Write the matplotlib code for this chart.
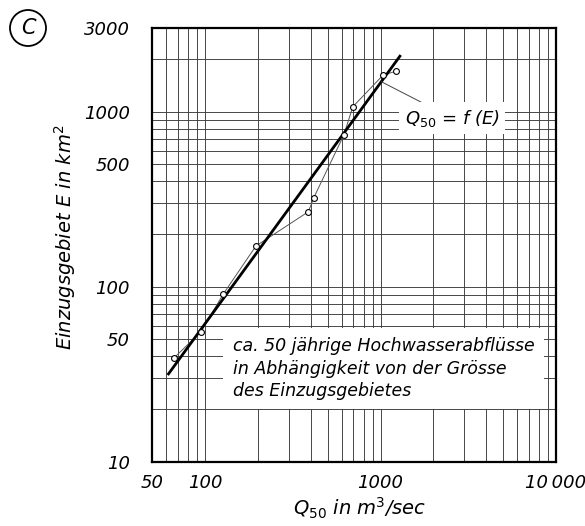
import matplotlib
matplotlib.use("Agg")
import matplotlib.pyplot as plt
from matplotlib.patches import Circle

plt.rcParams['font.family'] = ['DejaVu Sans']
plt.rcParams['mathtext.fontset'] = 'dejavusans'
plt.rcParams['mathtext.default'] = 'it'

# Data
q50 = [66.7, 94.7, 126.9, 194.8, 387.8, 416.7, 617.4, 695, 1034, 1233]
area = [39.3, 55.3, 90.8, 170.9, 268.3, 323.4, 736, 1068, 1621, 1708]
fit_q = [61.2, 1303]
fit_e = [31.3, 2109]

x_major = [50, 100, 1000, 10000]
x_major_labels = ['50', '100', '1000', '10\u2009000']
x_minor = [60, 70, 80, 90, 200, 300, 400, 500, 600, 700, 800, 900,
           2000, 3000, 4000, 5000, 6000, 7000, 8000, 9000]
y_major = [10, 50, 100, 500, 1000, 3000]
y_major_labels = ['10', '50', '100', '500', '1000', '3000']
y_minor = [20, 30, 40, 60, 70, 80, 90, 200, 300, 400, 600, 700, 800, 900, 2000]

fig = plt.figure(figsize=(5.85, 5.26), dpi=100)
ax = fig.add_axes([0.2603, 0.1222, 0.6901, 0.8240])
ax.set_xscale('log')
ax.set_yscale('log')
ax.set_xlim(50, 10000)
ax.set_ylim(10, 3000)

ax.set_xticks(x_major)
ax.set_xticklabels(x_major_labels)
ax.set_xticks(x_minor, minor=True)
ax.set_xticklabels([], minor=True)
ax.set_yticks(y_major)
ax.set_yticklabels(y_major_labels)
ax.set_yticks(y_minor, minor=True)
ax.set_yticklabels([], minor=True)

ax.tick_params(which='both', length=0)
ax.tick_params(axis='x', pad=9, labelsize=13)
ax.tick_params(axis='y', pad=16, labelsize=13)
for lab in ax.get_xticklabels() + ax.get_yticklabels():
    lab.set_style('italic')

ax.grid(True, which='both', color='#3a3a3a', linewidth=0.65)
ax.set_axisbelow(True)
for sp in ax.spines.values():
    sp.set_linewidth(1.6)
    sp.set_color('black')

# data polyline and fitted line
ax.plot(q50, area, color='#555555', linewidth=0.7, zorder=3)
ax.plot(fit_q, fit_e, color='black', linewidth=2.0, zorder=4,
        solid_capstyle='butt')
ax.plot(q50, area, linestyle='none', marker='o', markersize=4.2,
        markerfacecolor='white', markeredgecolor='black',
        markeredgewidth=0.8, zorder=5)

# annotation for fitted line
ax.annotate('Q$_{50}$ = f (E)', xy=(1012, 1484), xytext=(1374, 920),
            textcoords='data', ha='left', va='center', fontsize=13,
            style='italic', zorder=6,
            bbox=dict(boxstyle='square,pad=0.3', fc='white', ec='none'),
            arrowprops=dict(arrowstyle='-', lw=0.7, color='#444444',
                            shrinkA=0, shrinkB=0))

# description box
ax.text(0.2, 0.287,
        'ca. 50 jährige Hochwasserabflüsse\n'
        'in Abhängigkeit von der Grösse\n'
        'des Einzugsgebietes',
        transform=ax.transAxes, ha='left', va='top', fontsize=12.5,
        style='italic', linespacing=1.3, zorder=6,
        bbox=dict(boxstyle='square,pad=0.55', fc='white', ec='none'))

# axis labels
fig.text(65 / 585, 1 - 237.5 / 526, 'Einzugsgebiet E in km$^{2}$', rotation=90,
         ha='center', va='center', fontsize=14, style='italic')
fig.text(360 / 585, 1 - 508 / 526, 'Q$_{50}$ in m$^{3}$/sec', ha='center',
         va='center', fontsize=14, style='italic')

# circled panel letter
fig.add_artist(Circle((0.28, 5.26 - 0.28), 0.18, transform=fig.dpi_scale_trans,
                      fill=False, edgecolor='black', linewidth=1.3))
fig.text(28 / 585, 1 - 28 / 526, 'C', ha='center', va='center',
         fontsize=15, style='italic')

fig.savefig('out.png', dpi=100)
